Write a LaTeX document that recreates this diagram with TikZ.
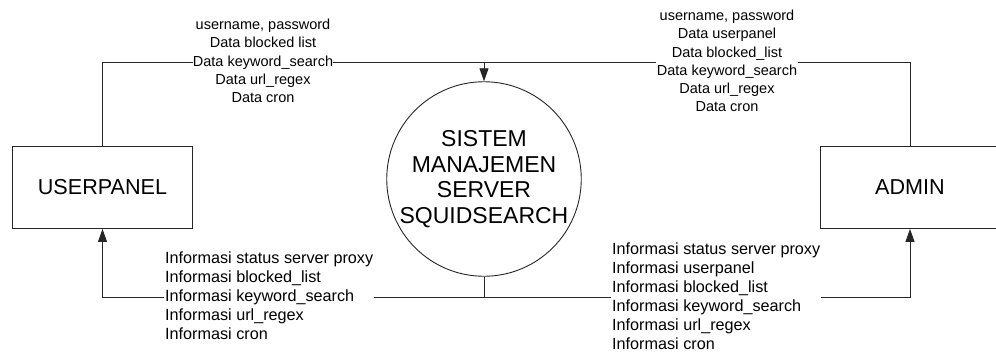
\documentclass[tikz,border=0pt]{standalone}
\usepackage{fontspec}
\setmainfont{Liberation Sans}
\usetikzlibrary{arrows.meta}
\begin{document}
\begin{tikzpicture}[x=1pt,y=-1pt,
  line/.style={draw=black!85, line width=0.9pt},
  flow/.style={line, -{Triangle[length=13pt,width=9pt]}},
  entity/.style={line, rectangle, minimum width=180pt, minimum height=82pt,
    inner sep=0pt, font=\fontsize{21.6}{24}\selectfont},
  process/.style={line, circle, minimum size=186pt, inner sep=0pt, align=center,
    font=\fontsize{23}{25.7}\selectfont},
  datalabel/.style={fill=white, inner sep=0pt, align=center,
    font=\fontsize{14.5}{18.2}\selectfont},
  infolabel/.style={fill=white, inner sep=1pt, align=left, anchor=west,
    font=\fontsize{16.2}{18.9}\selectfont}]
  \useasboundingbox (0,0) rectangle (996,356);
  \begin{scope}
    \clip (0,0) rectangle (996,356);

    % external entities and the central process
    \node[entity] (user) at (102.5,187.5) {USERPANEL};
    \node[entity] (admin) at (910,187.5) {ADMIN};
    \node[process] (sys) at (484,179) {SISTEM\\MANAJEMEN\\SERVER\\SQUIDSEARCH};

    % junctions of the merged flows
    \coordinate (jin) at (sys.north |- 0,62);
    \coordinate (jout) at (sys.south |- 0,297.5);

    % data flowing into the process
    \draw[line] (user.north) |- (jin);
    \draw[line] (admin.north) |- (jin);
    \draw[flow] (jin) -- (sys.north);

    % information flowing out of the process
    \draw[line] (sys.south) -- (jout);
    \draw[flow] (jout) -| (user.south);
    \draw[flow] (jout) -| (admin.south);

    % flow labels
    \node[datalabel] (inuser) at (263,61) {username, password\\Data blocked list\\Data keyword\_search\\Data url\_regex\\Data cron};
    \node[datalabel, inner sep=1pt] (inadmin) at (727,61) {username, password\\Data userpanel\\Data blocked\_list\\Data keyword\_search\\Data url\_regex\\Data cron};
    \node[infolabel] (outuser) at (164,296) {Informasi status server proxy\\Informasi blocked\_list\\Informasi keyword\_search\\Informasi url\_regex\\Informasi cron};
    \node[infolabel] (outadmin) at (611,296) {Informasi status server proxy\\Informasi userpanel\\Informasi blocked\_list\\Informasi keyword\_search\\Informasi url\_regex\\Informasi cron};
  \end{scope}
\end{tikzpicture}
\end{document}
